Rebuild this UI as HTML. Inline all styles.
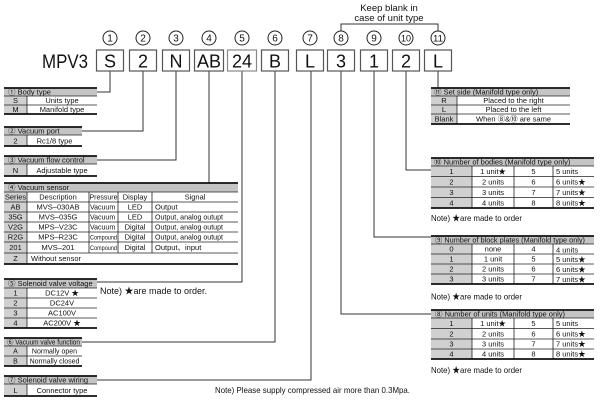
<!DOCTYPE html>
<html><head><meta charset="utf-8">
<style>
html,body{margin:0;padding:0;background:#fff;}
svg{display:block;}
text{font-family:"Liberation Sans","Noto Sans CJK JP",sans-serif;fill:#111;}
.h{font-size:7.5px;}
.t{font-size:7.5px;}
.s{font-size:7px;}
.c{text-anchor:middle;}
.g{fill:#d0d0d0;}
.hg{fill:#c4c4c4;}
.l{stroke:#222;stroke-width:0.8;fill:none;}
.tk{stroke:#111;stroke-width:1.7;fill:none;}
.cn{stroke:#333;stroke-width:1;fill:none;}
.bx{fill:#fff;stroke:#555;stroke-width:1.2;}
.ci{fill:#fff;stroke:#222;stroke-width:1;}
</style></head><body>
<svg width="600" height="402" viewBox="0 0 600 402" xmlns="http://www.w3.org/2000/svg">

<!-- Top note and bracket -->
<text x="389" y="11" class="c" font-size="9.5">Keep blank in</text>
<text x="389" y="21" class="c" font-size="9.5">case of unit type</text>
<path class="cn" d="M341,31V24H438V31"/>

<!-- Connectors -->
<path class="cn" d="M110,71V92H97"/>
<path class="cn" d="M143,71V131H82"/>
<path class="cn" d="M176,71V160H97"/>
<path class="cn" d="M209,71V183"/>
<path class="cn" d="M242,71V282H97"/>
<path class="cn" d="M275,71V342H82"/>
<path class="cn" d="M311,71V380H97"/>
<path class="cn" d="M341,71V314H431"/>
<path class="cn" d="M374,71V237H431"/>
<path class="cn" d="M406,71V170H431"/>
<path class="cn" d="M438,71V88"/>

<!-- Circled numbers -->
<g font-size="10">
<circle cx="110" cy="38" r="7" class="ci"/><text x="110" y="41.5" class="c">1</text>
<circle cx="143" cy="38" r="7" class="ci"/><text x="143" y="41.5" class="c">2</text>
<circle cx="176" cy="38" r="7" class="ci"/><text x="176" y="41.5" class="c">3</text>
<circle cx="209" cy="38" r="7" class="ci"/><text x="209" y="41.5" class="c">4</text>
<circle cx="242" cy="38" r="7" class="ci"/><text x="242" y="41.5" class="c">5</text>
<circle cx="275" cy="38" r="7" class="ci"/><text x="275" y="41.5" class="c">6</text>
<circle cx="310" cy="38" r="7" class="ci"/><text x="310" y="41.5" class="c">7</text>
<circle cx="341" cy="38" r="7" class="ci"/><text x="341" y="41.5" class="c">8</text>
<circle cx="374" cy="38" r="7" class="ci"/><text x="374" y="41.5" class="c">9</text>
<circle cx="406" cy="38" r="7" class="ci"/><text x="406" y="41.5" class="c" font-size="9" textLength="10" lengthAdjust="spacingAndGlyphs">10</text>
<circle cx="438" cy="38" r="7" class="ci"/><text x="438" y="41.5" class="c" font-size="9" textLength="10" lengthAdjust="spacingAndGlyphs">11</text>
</g>

<!-- Model code -->
<text x="42" y="68" font-size="19" textLength="46" lengthAdjust="spacingAndGlyphs">MPV3</text>
<g font-size="18">
<rect x="96.5" y="50" width="27" height="21" class="bx"/><text x="110" y="67.5" class="c">S</text>
<rect x="129.5" y="50" width="27" height="21" class="bx"/><text x="143" y="67.5" class="c">2</text>
<rect x="162.5" y="50" width="27" height="21" class="bx"/><text x="176" y="67.5" class="c">N</text>
<rect x="194.5" y="50" width="29" height="21" class="bx"/><text x="209" y="67.5" class="c">AB</text>
<rect x="227.5" y="50" width="29" height="21" class="bx" style="stroke:#888"/><text x="242" y="67.5" class="c">24</text>
<rect x="261.5" y="50" width="27" height="21" class="bx"/><text x="275" y="67.5" class="c">B</text>
<rect x="296.5" y="50" width="27" height="21" class="bx"/><text x="310" y="67.5" class="c">L</text>
<rect x="327.5" y="50" width="27" height="21" class="bx"/><text x="341" y="67.5" class="c">3</text>
<rect x="360.5" y="50" width="27" height="21" class="bx"/><text x="374" y="67.5" class="c">1</text>
<rect x="392.5" y="50" width="27" height="21" class="bx"/><text x="406" y="67.5" class="c">2</text>
<rect x="424.5" y="50" width="27" height="21" class="bx"/><text x="438" y="67.5" class="c">L</text>
</g>

<!-- T1 Body type -->
<rect x="4" y="88" width="93" height="8" class="hg"/>
<text x="8" y="94.5" class="h">① Body type</text>
<rect x="4" y="96" width="23" height="18" class="g"/>
<path class="l" d="M4,96H97M4,105H97M27,96V114"/>
<path class="tk" d="M4,88H97M4,114H97"/>
<text x="15.5" y="103" class="t c">S</text><text x="62" y="103" class="t c">Units type</text>
<text x="15.5" y="112" class="t c">M</text><text x="62" y="112" class="t c">Manifold type</text>

<!-- T2 Vacuum port -->
<rect x="4" y="127" width="78" height="8" class="hg"/>
<text x="8" y="133.5" class="h">② Vacuum port</text>
<rect x="4" y="135" width="23" height="11" class="g"/>
<path class="l" d="M4,135H82M27,135V146"/>
<path class="tk" d="M4,127H82M4,146H82"/>
<text x="15.5" y="143.5" class="t c">2</text><text x="54.5" y="143.5" class="t c">Rc1/8 type</text>

<!-- T3 Vacuum flow control -->
<rect x="4" y="156" width="93" height="8" class="hg"/>
<text x="8" y="162.5" class="h">③ Vacuum flow control</text>
<rect x="4" y="164" width="23" height="12" class="g"/>
<path class="l" d="M4,164H97M27,164V176"/>
<path class="tk" d="M4,156H97M4,176H97"/>
<text x="15.5" y="173" class="t c">N</text><text x="62" y="173" class="t c">Adjustable type</text>

<!-- T4 Vacuum sensor -->
<rect x="4" y="183" width="234" height="9" class="hg"/>
<text x="8" y="190" class="h">④ Vacuum sensor</text>
<rect x="4" y="192" width="23" height="72" class="g"/>
<path class="l" d="M4,192H238M4,202H238M4,212H238M4,222H238M4,232H238M4,242H238M4,253H238M27,192V264M89,192V253M118,192V253M152,192V253"/>
<path class="tk" d="M4,183H238M4,264H238"/>
<g class="t">
<text x="15.5" y="199.5" class="c">Series</text><text x="58" y="199.5" class="c">Description</text><text x="103.5" y="199.5" class="c" font-size="7">Pressure</text><text x="135" y="199.5" class="c">Display</text><text x="195" y="199.5" class="c">Signal</text>
<text x="15.5" y="209.5" class="c">AB</text><text x="58" y="209.5" class="c">MVS–030AB</text><text x="90" y="209.5" font-size="7">Vacuum</text><text x="135" y="209.5" class="c">LED</text><text x="155" y="209.5">Output</text>
<text x="15.5" y="219.5" class="c">35G</text><text x="58" y="219.5" class="c">MVS–035G</text><text x="90" y="219.5" font-size="7">Vacuum</text><text x="135" y="219.5" class="c">LED</text><text x="155" y="219.5" textLength="68" lengthAdjust="spacingAndGlyphs">Output, analog outupt</text>
<text x="15.5" y="229.5" class="c">V2G</text><text x="58" y="229.5" class="c">MPS–V23C</text><text x="90" y="229.5" font-size="7">Vacuum</text><text x="135" y="229.5" class="c">Digital</text><text x="155" y="229.5" textLength="68" lengthAdjust="spacingAndGlyphs">Output, analog outupt</text>
<text x="15.5" y="239.5" class="c">R2G</text><text x="58" y="239.5" class="c">MPS–R23C</text><text x="90" y="239.5" font-size="6.5" textLength="27" lengthAdjust="spacingAndGlyphs">Compound</text><text x="135" y="239.5" class="c">Digital</text><text x="155" y="239.5" textLength="68" lengthAdjust="spacingAndGlyphs">Output, analog outupt</text>
<text x="15.5" y="250" class="c">201</text><text x="58" y="250" class="c">MVS–201</text><text x="90" y="250" font-size="6.5" textLength="27" lengthAdjust="spacingAndGlyphs">Compound</text><text x="135" y="250" class="c">Digital</text><text x="155" y="250">Output、input</text>
<text x="15.5" y="261" class="c">Z</text><text x="31" y="261">Without sensor</text>
</g>

<!-- T5 Solenoid valve voltage -->
<rect x="4" y="279" width="93" height="9" class="hg"/>
<text x="8" y="286" class="h">⑤ Solenoid valve voltage</text>
<rect x="4" y="288" width="23" height="40" class="g"/>
<path class="l" d="M4,288H97M4,298H97M4,308H97M4,318H97M27,288V328"/>
<path class="tk" d="M4,279H97M4,328H97"/>
<g class="t">
<text x="15.5" y="295.5" class="c">1</text><text x="62" y="295.5" class="c">DC12V ★</text>
<text x="15.5" y="305.5" class="c">2</text><text x="62" y="305.5" class="c">DC24V</text>
<text x="15.5" y="315.5" class="c">3</text><text x="62" y="315.5" class="c">AC100V</text>
<text x="15.5" y="325.5" class="c">4</text><text x="62" y="325.5" class="c">AC200V ★</text>
</g>
<text x="100" y="294" font-size="9" textLength="107" lengthAdjust="spacingAndGlyphs">Note) ★are made to order.</text>

<!-- T6 Vacuum valve function -->
<rect x="4" y="338" width="78" height="8" class="hg"/>
<text x="7" y="344.5" class="h" textLength="73" lengthAdjust="spacingAndGlyphs">⑥ Vacuum valve function</text>
<rect x="4" y="346" width="23" height="20" class="g"/>
<path class="l" d="M4,346H82M4,356H82M27,346V366"/>
<path class="tk" d="M4,338H82M4,366H82"/>
<text x="15.5" y="353.5" class="s c">A</text><text x="54.5" y="353.5" class="s c">Normally open</text>
<text x="15.5" y="363.5" class="s c">B</text><text x="54.5" y="363.5" class="s c">Normally closed</text>

<!-- T7 Solenoid valve wiring -->
<rect x="4" y="376" width="93" height="8" class="hg"/>
<text x="8" y="382.5" class="h">⑦ Solenoid valve wiring</text>
<rect x="4" y="384" width="23" height="12" class="g"/>
<path class="l" d="M4,384H97M27,384V396"/>
<path class="tk" d="M4,376H97M4,396H97"/>
<text x="15.5" y="393" class="t c">L</text><text x="62" y="393" class="t c">Connector type</text>

<text x="215" y="393" font-size="8.5" textLength="195" lengthAdjust="spacingAndGlyphs">Note) Please supply compressed air more than 0.3Mpa.</text>

<!-- R1 Set side -->
<rect x="431" y="88" width="139" height="8" class="hg"/>
<text x="434" y="94.5" class="h">⑪ Set side (Manifold type only)</text>
<rect x="431" y="96" width="26" height="28" class="g"/>
<path class="l" d="M431,96H570M431,105H570M431,114H570M457,96V124"/>
<path class="tk" d="M431,88H570M431,124H570"/>
<g class="t">
<text x="444" y="103" class="c">R</text><text x="513.5" y="103" class="c">Placed to the right</text>
<text x="444" y="112" class="c">L</text><text x="513.5" y="112" class="c">Placed to the left</text>
<text x="444" y="121.5" class="c">Blank</text><text x="513.5" y="121.5" class="c">When ⑧&amp;⑩ are same</text>
</g>

<!-- R2 Number of bodies -->
<rect x="431" y="158" width="163" height="8" class="hg"/>
<text x="434" y="164.5" class="h">⑩ Number of bodies (Manifold type only)</text>
<rect x="431" y="166" width="41" height="42" class="g"/>
<path class="l" d="M431,166H594M431,176.5H594M431,187H594M431,197.5H594M472,166V208M514,166V208M553,166V208"/>
<path class="tk" d="M431,158H594M431,208H594"/>
<g class="t">
<text x="451.5" y="174" class="c">1</text><text x="493" y="174" class="c">1 unit★</text><text x="533.5" y="174" class="c">5</text><text x="556" y="174">5 units</text>
<text x="451.5" y="184.5" class="c">2</text><text x="493" y="184.5" class="c">2 units</text><text x="533.5" y="184.5" class="c">6</text><text x="556" y="184.5">6 units★</text>
<text x="451.5" y="195" class="c">3</text><text x="493" y="195" class="c">3 units</text><text x="533.5" y="195" class="c">7</text><text x="556" y="195">7 units★</text>
<text x="451.5" y="205.5" class="c">4</text><text x="493" y="205.5" class="c">4 units</text><text x="533.5" y="205.5" class="c">8</text><text x="556" y="205.5">8 units★</text>
</g>
<text x="431" y="221" font-size="8.5" textLength="91" lengthAdjust="spacingAndGlyphs">Note) ★are made to order</text>

<!-- R3 Number of block plates -->
<rect x="431" y="236" width="163" height="8" class="hg"/>
<text x="435" y="242.5" class="h" textLength="150" lengthAdjust="spacingAndGlyphs">⑨ Number of block plates (Manifold type only)</text>
<rect x="431" y="244" width="41" height="40" class="g"/>
<path class="l" d="M431,244H594M431,254H594M431,264H594M431,274H594M472,244V284M514,244V284M553,244V284"/>
<path class="tk" d="M431,236H594M431,284H594"/>
<g class="t">
<text x="451.5" y="251.5" class="c">0</text><text x="493" y="251.5" class="c">none</text><text x="533.5" y="251.5" class="c">4</text><text x="556" y="252.5">4 units</text>
<text x="451.5" y="261.5" class="c">1</text><text x="493" y="261.5" class="c">1 unit</text><text x="533.5" y="261.5" class="c">5</text><text x="556" y="262">5 units★</text>
<text x="451.5" y="271.5" class="c">2</text><text x="493" y="271.5" class="c">2 units</text><text x="533.5" y="271.5" class="c">6</text><text x="556" y="272">6 units★</text>
<text x="451.5" y="281.5" class="c">3</text><text x="493" y="281.5" class="c">3 units</text><text x="533.5" y="281.5" class="c">7</text><text x="556" y="282">7 units★</text>
</g>
<text x="431" y="299.5" font-size="8.5" textLength="91" lengthAdjust="spacingAndGlyphs">Note) ★are made to order</text>

<!-- R4 Number of units -->
<rect x="431" y="310" width="163" height="8" class="hg"/>
<text x="435" y="316.5" class="h">⑧ Number of  units (Manifold type only)</text>
<rect x="431" y="318" width="41" height="41" class="g"/>
<path class="l" d="M431,318H594M431,328.5H594M431,339H594M431,349H594M472,318V359M514,318V359M553,318V359"/>
<path class="tk" d="M431,310H594M431,359H594"/>
<g class="t">
<text x="451.5" y="326" class="c">1</text><text x="493" y="326" class="c">1 unit★</text><text x="533.5" y="326" class="c">5</text><text x="556" y="326">5 units</text>
<text x="451.5" y="336.5" class="c">2</text><text x="493" y="336.5" class="c">2 units</text><text x="533.5" y="336.5" class="c">6</text><text x="556" y="336.5">6 units★</text>
<text x="451.5" y="346.5" class="c">3</text><text x="493" y="346.5" class="c">3 units</text><text x="533.5" y="346.5" class="c">7</text><text x="556" y="346.5">7 units★</text>
<text x="451.5" y="356.5" class="c">4</text><text x="493" y="356.5" class="c">4 units</text><text x="533.5" y="356.5" class="c">8</text><text x="556" y="356.5">8 units★</text>
</g>
<text x="431" y="373" font-size="8.5" textLength="91" lengthAdjust="spacingAndGlyphs">Note) ★are made to order</text>

</svg>
</body></html>
